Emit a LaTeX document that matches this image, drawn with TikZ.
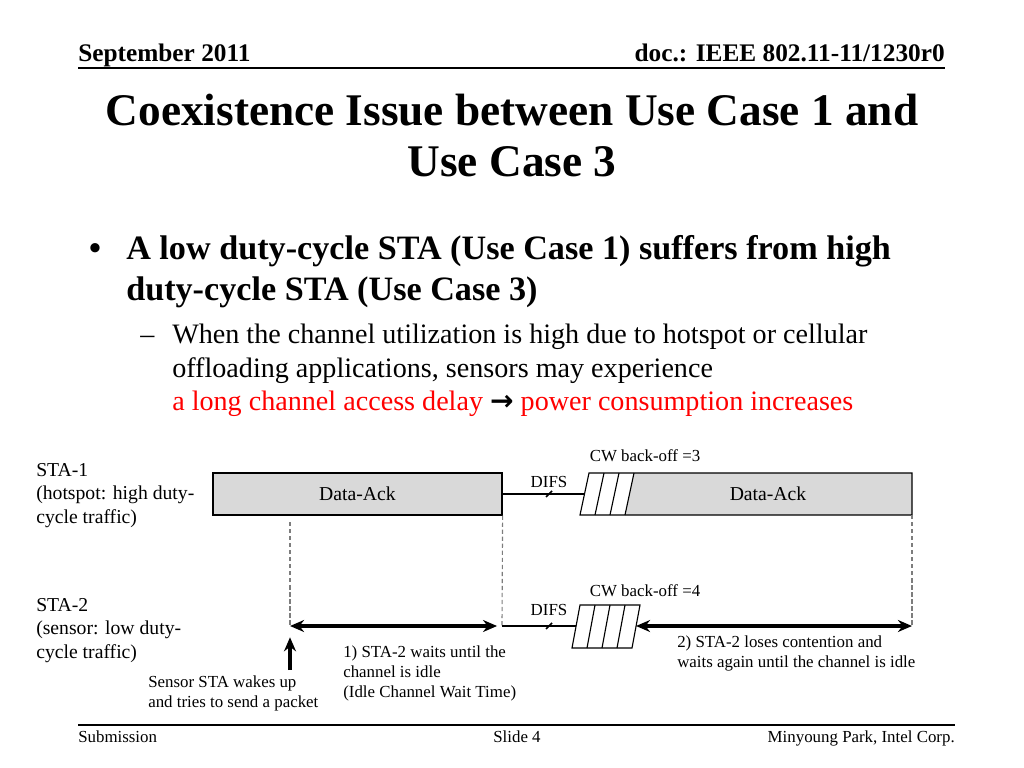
\documentclass[tikz,border=0pt]{standalone}
\usepackage{fontspec}
\setmainfont{Liberation Serif}
\newfontfamily\arrowfont{DejaVu Sans}
\usetikzlibrary{arrows.meta,positioning,calc}
\definecolor{framegray}{RGB}{217,217,217}
\definecolor{guidegray}{RGB}{125,125,125}
\definecolor{alertred}{RGB}{255,0,0}
\tikzset{
  >={Stealth[length=10pt,width=8.5pt]},
  frame/.style={draw=black,fill=framegray,line width=0.8pt,minimum width=7.225cm,minimum height=1.05cm,
    inner sep=0pt,font=\fontsize{14}{16}\selectfont},
  backoff/.style={draw=black,fill=white,line width=0.8pt},
  medium/.style={draw=black,line width=0.8pt},
  tick/.style={draw=black,line width=1.2pt},
  vline/.style={draw=guidegray,line width=0.8pt,dash pattern=on 3pt off 2pt},
  wait/.style={<->,line width=2.4pt},
  wakeup/.style={->,line width=2.4pt},
  sta/.style={inner sep=0pt,anchor=base west,align=left,font=\fontsize{14}{16.4}\selectfont},
  note/.style={inner sep=0pt,anchor=base west,align=left,font=\fontsize{12}{14.2}\selectfont},
  lbl/.style={inner sep=0pt,anchor=base,font=\fontsize{12}{14}\selectfont},
  head/.style={inner sep=0pt,font=\fontsize{18}{20}\selectfont\bfseries},
  title/.style={inner sep=0pt,anchor=base,font=\fontsize{32.2}{37}\selectfont\bfseries},
  lvl1/.style={inner sep=0pt,anchor=base west,font=\fontsize{24.3}{29}\selectfont\bfseries},
  lvl2/.style={inner sep=0pt,anchor=base west,font=\fontsize{20}{24}\selectfont},
  foot/.style={inner sep=0pt,font=\fontsize{12}{14}\selectfont},
}
\begin{document}
\begin{tikzpicture}[x=0.025cm,y=-0.025cm]
\useasboundingbox (0,0) rectangle (1024,768);
% header
\node[head,anchor=base west] (date) at (78,62) {September 2011};
\node[head,anchor=base east] (docid) at (945,62) {doc.: IEEE 802.11-11/1230r0};
\draw[line width=1.4pt] (78,68) -- (945,68);
% title
\node[title] (title1) at (512,126) {Coexistence Issue between Use Case 1 and};
\node[title] (title2) at (512,177) {Use Case 3};
% bullets
\node[lvl1,anchor=base] (dot) at (95,259) {\textbullet};
\node[lvl1] (main1) at (126,259) {A low duty-cycle STA (Use Case 1) suffers from high};
\node[lvl1] (main2) at (126,300) {duty-cycle STA (Use Case 3)};
\node[lvl2] (dash) at (140,343) {--};
\node[lvl2] (sub1) at (172,343) {When the channel utilization is high due to hotspot or cellular};
\node[lvl2] (sub2) at (172,377) {offloading applications, sensors may experience};
\node[lvl2,text=alertred] (sub3) at (172,410) {a long channel access delay
  {\color{black}\arrowfont\bfseries\fontsize{20}{24}\selectfont →} power consumption increases};
% stations (base = last line)
\node[sta] (sta1) at (36,523) {STA-1\\(hotspot: high duty-\\cycle traffic)};
\node[sta] (sta2) at (36,658) {STA-2\\(sensor: low duty-\\cycle traffic)};
% STA-1 row
\node[frame] (ack1) at (357.5,494) {Data-Ack};
\coordinate (bo1) at (584.5,494);
\coordinate (end1) at (912,515);
\fill[framegray] (625,515) -- (634,473) -- (912,473) -- (end1) -- cycle;
\draw[medium] (580,515) -- (589,473) -- (912,473) -- (end1) -- cycle;
\foreach \i in {1,2,3}
  \draw[medium] ({580+15*\i},515) -- ({589+15*\i},473);
\node[font=\fontsize{14}{16}\selectfont] (ack2) at (768,494) {Data-Ack};
\draw[medium] (ack1.east) -- (bo1);
\draw[tick] (549,494) ++(-3,3) -- ++(6,-6);
\node[lbl] (difs1) at (549,487) {DIFS};
\node[lbl] (cw1) at (645,461) {CW back-off =3};
% guides
\coordinate (wake) at (290,626);
\coordinate (idle1) at (502,626);
\coordinate (end2) at (912,626);
\draw[vline] (290,522) -- (wake);
\draw[vline] (ack1.south east) -- (idle1);
\draw[vline] (end1) -- (end2);
% STA-2 row
\coordinate (bo2) at (576,626);
\coordinate (bo2e) at (636,626);
\coordinate (wakesrc) at (290,670);
\draw[wait,shorten >=3.5pt] (wake) -- (idle1);
\draw[medium] (idle1) -- (bo2);
\draw[tick] (549,626) ++(-3,3) -- ++(6,-6);
\draw[backoff] (572,648) -- (580,605) -- (640,605) -- (632,648) -- cycle;
\foreach \i in {1,2,3}
  \draw[medium] ({572+15*\i},648) -- ({580+15*\i},605);
\draw[wait] (bo2e) -- (end2);
\draw[wakeup,shorten >=8pt] (wakesrc) -- (wake);
\node[lbl] (difs2) at (549,615) {DIFS};
\node[lbl] (cw2) at (645,596) {CW back-off =4};
\node[note] (wakenote) at (148,707) {Sensor STA wakes up\\and tries to send a packet};
\node[note] (waitnote) at (343,697) {1) STA-2 waits until the\\channel is idle\\(Idle Channel Wait Time)};
\node[note] (losenote) at (677,667) {2) STA-2 loses contention and\\waits again until the channel is idle};
% footer
\draw[line width=1.4pt] (78,725) -- (955,725);
\node[foot,anchor=base west] (subm) at (78,742) {Submission};
\node[foot,anchor=base] (slide) at (517,742) {Slide 4};
\node[foot,anchor=base east] (author) at (955,742) {Minyoung Park, Intel Corp.};
\end{tikzpicture}
\end{document}
